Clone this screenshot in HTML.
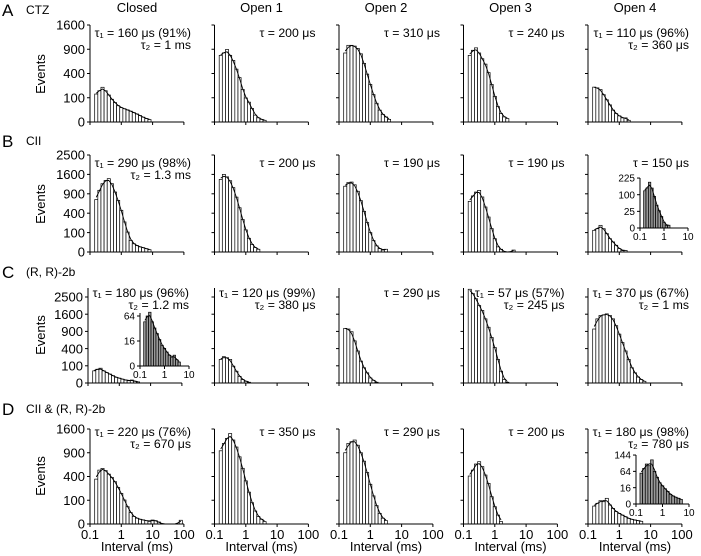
<!DOCTYPE html>
<html><head><meta charset="utf-8"><style>
body{margin:0;background:#fff;}
svg{display:block;font-family:"Liberation Sans",Arial,sans-serif;}
</style></head><body>
<svg id="fig" width="701" height="556" viewBox="0 0 701 556" xmlns="http://www.w3.org/2000/svg">
</svg>
<script>
// ---- data (events per log bin, 10 bins/decade starting at 10^-0.85 ms) ----
const colTitles = ["Closed","Open 1","Open 2","Open 3","Open 4"];
const rowLetters = ["A","B","C","D"];
const rowNames = ["CTZ","CII","(R, R)-2b","CII & (R, R)-2b"];
const ticksAD = [0,100,400,900,1600];
const ticksBC = [0,100,400,900,1600,2500];
const xTickLabels = ["0.1","1","10","100"];

const countsA0 = [133,166,205,166,124,88,64,45,35,30,25,20,15,11,7,4,2,1];
const countsA1 = [756,812,894,756,645,475,335,180,98,67,31,8,3,1.2,0.5];
const countsA2 = [810,1000,1000,980,920,790,585,390,240,128,60,24,10,4.4,1.2];
const countsA3 = [755,875,935,810,680,570,415,240,112,40,12,4.4,2];
const countsA4 = [207,198,179,127,84,50,24,12,6.4,2.9,2.9,0.5];

const countsB0 = [729,1011,1239,1361,1429,1239,955,708,462,240,106,36,18,11,7,5,3,1.4];
const countsB1 = [1400,1600,1500,1350,1100,800,520,280,130,50,15,5,2];
const countsB2 = [1150,1280,1300,1200,980,700,440,230,100,35,10,3,1,2];
const countsB3 = [681,835,955,1010,805,538,325,145,47,7,2,0,0,0,1];
const countsB4 = [125,144,189,144,90,47,27,12,3,0.5,0.7];

const countsC0 = [50,64,74,50,37,27,18,11,8,5,3,1.8,3,1,0.4];
const countsC1 = [188,234,216,188,96,47,15,4,1,0.2];
const countsC2 = [1010,985,888,600,347,162,78,35,8.6,2.5,0.2];
const countsC3 = [2970,2700,2400,2030,1780,1390,1050,700,424,188,47,4,0.2];
const countsC4 = [985,1390,1540,1570,1615,1540,1390,1110,808,553,347,188,78,35,12,4,1];

const countsD0 = [357,515,548,506,441,384,317,237,166,102,53,23,10,6,4,3,2,1.2,2.8,2,0.7,0,0,0,0,0,0,2.5];
const countsD1 = [950,1150,1300,1450,1250,1050,800,550,330,180,80,30,10,4,1];
const countsD2 = [900,1150,1200,1250,1100,900,700,470,280,140,60,20,6,2];
const countsD3 = [408,515,638,688,583,425,293,132,53,14,1];
const countsD4 = [57,76,96,88,117,64,43,27,20,14,9.5,5.7,3.9,2.8,2,1.3];

const notes = [
 [["τ₁ = 160 μs (91%)","τ₂ = 1 ms"],["τ = 200 μs"],["τ = 310 μs"],["τ = 240 μs"],["τ₁ = 110 μs (96%)","τ₂ = 360 μs"]],
 [["τ₁ = 290 μs (98%)","τ₂ = 1.3 ms"],["τ = 200 μs"],["τ = 190 μs"],["τ = 190 μs"],["τ = 150 μs"]],
 [["τ₁ = 180 μs (96%)","τ₂ = 1.2 ms"],["τ₁ = 120 μs (99%)","τ₂ = 380 μs"],["τ = 290 μs"],["τ₁ = 57 μs (57%)","τ₂ = 245 μs"],["τ₁ = 370 μs (67%)","τ₂ = 1 ms"]],
 [["τ₁ = 220 μs (76%)","τ₂ = 670 μs"],["τ = 350 μs"],["τ = 290 μs"],["τ = 200 μs"],["τ₁ = 180 μs (98%)","τ₂ = 780 μs"]]
];
const allCounts = [[countsA0,countsA1,countsA2,countsA3,countsA4],[countsB0,countsB1,countsB2,countsB3,countsB4],[countsC0,countsC1,countsC2,countsC3,countsC4],[countsD0,countsD1,countsD2,countsD3,countsD4]];

// ---- layout ----
const svg = document.getElementById('fig');
const NS = "http://www.w3.org/2000/svg";
const colX = [90,214.5,339,463.5,588];
const DEC = 31.3;
const rowZero = [122,252,383,524];
const rowUnit = [2.425,1.94,1.72,2.375];
const rowTicks = [ticksAD,ticksBC,ticksBC,ticksAD];
const rowTop = [null,null,288,null];
const noteY = [37,167,297,436];
const BIN0 = -0.85, BW = 0.1;

function el(tag, attrs, parent){const e=document.createElementNS(NS,tag);for(const k in attrs)e.setAttribute(k,attrs[k]);(parent||svg).appendChild(e);return e;}
function txt(s, attrs, parent){const t=el('text',attrs,parent);t.textContent=s;return t;}

function drawHist(g, counts, x0, dec, y0, unit, fill){
  const xs = v => x0 + (v + 1) * dec;
  const ys = c => y0 - Math.sqrt(Math.max(c,0)) * unit;
  counts.forEach((c,i)=>{
    if(c<=0) return;
    const l = xs(BIN0+i*BW), r = xs(BIN0+(i+1)*BW);
    const b = el('rect',{x:l,y:ys(c),width:r-l,height:y0-ys(c),fill:fill,stroke:'#000','stroke-width':0.7},g);
    
    
  });
  const sq = counts.map(c=>Math.sqrt(Math.max(c,0)));
  let last = sq.length-1; while(last>0 && sq[last]<=0.05) last--;
  const pts=[];
  for(let i=0;i<=last;i++){
    const a=sq[Math.max(0,i-1)], b=sq[i], c=sq[Math.min(sq.length-1,i+1)];
    const s=(a+2*b+c)/4;
    pts.push([xs(BIN0+(i+0.5)*BW), y0 - s*unit]);
  }
  const p = el('polyline',{points:pts.map(q=>q.join(',')).join(' '),fill:'none',stroke:'#000','stroke-width':0.9},g);
  
  
}

function drawAxes(g, x0, dec, ndec, y0, unit, ticks, top, yfs, xfs, xlabels){
  const topY = top!=null ? top : y0 - Math.sqrt(ticks[ticks.length-1])*unit;
  el('line',{x1:x0,y1:y0,x2:x0,y2:topY,stroke:'#000','stroke-width':1},g);
  el('line',{x1:x0,y1:y0,x2:x0+ndec*dec,y2:y0,stroke:'#000','stroke-width':1},g);
  ticks.forEach(t=>{
    const y=y0-Math.sqrt(t)*unit;
    el('line',{x1:x0-3,y1:y,x2:x0,y2:y,stroke:'#000','stroke-width':1},g);
    if(yfs){const l=txt(String(t),{x:x0-5,y:y+yfs*0.36,'font-size':yfs,'text-anchor':'end'},g);
      
      }
  });
  for(let d=0; d<=ndec; d++){
    const x=x0+d*dec;
    el('line',{x1:x,y1:y0,x2:x,y2:y0+3,stroke:'#000','stroke-width':1},g);
    if(xfs){const l=txt(xlabels[d],{x:x,y:y0+xfs+2,'font-size':xfs,'text-anchor':'middle'},g);
      
      }
  }
}

colTitles.forEach((t,c)=>{
  const e=txt(t,{x:colX[c]+47,y:12,'font-size':13,'text-anchor':'middle'});
  
  
});
const rowLetterY=[16,147,278,415];
rowLetters.forEach((L,r)=>{
  const a=txt(L,{x:2,y:rowLetterY[r],'font-size':17});
  
  
  const n=txt(rowNames[r],{x:26,y:rowLetterY[r]-2,'font-size':12});
  
  
  const ev=txt('Events',{x:0,y:0,'font-size':13,'text-anchor':'middle',transform:`translate(45,${rowZero[r]-48}) rotate(-90)`});
  
  
});

for(let r=0;r<4;r++){
  for(let c=0;c<5;c++){
    const g=el('g',{});
    
    
    const x0 = (r===2&&c===0)?88:colX[c];
    drawHist(g, allCounts[r][c], x0, DEC, rowZero[r], rowUnit[r], '#fff');
    drawAxes(g, x0, DEC, 3, rowZero[r], rowUnit[r], rowTicks[r], rowTop[r], c===0?13:0, r===3?13:0, xTickLabels);
    if(r===3){const xl=txt('Interval (ms)',{x:x0+47,y:551,'font-size':13,'text-anchor':'middle'},g);
      
      }
    notes[r][c].forEach((s,i)=>{
      const t=txt(s,{x:x0+101,y:noteY[r]+i*12,'font-size':12.3,'text-anchor':'end'},g);
      
      
    });
  }
}

const insetTicksB = [0,25,100,225];
const insetTicksC = [0,16,64];
const insetTicksD = [0,16,64,144];
const insetLabels = ["0.1","1","10"];
function inset(counts, x0, dec, y0, unit, ticks, top){
  const g=el('g',{});
  
  
  drawHist(g, counts, x0, dec, y0, unit, '#999');
  drawAxes(g, x0, dec, 2, y0, unit, ticks, top, 10, 10, insetLabels);
}
inset(countsB4, 640, 24, 228, 3.33, insetTicksB, null);
inset(countsC0, 140, 24.5, 366, 6.25, insetTicksC, 313);
inset(countsD4, 636, 26.5, 504, 4.08, insetTicksD, null);
</script>
</body></html>
